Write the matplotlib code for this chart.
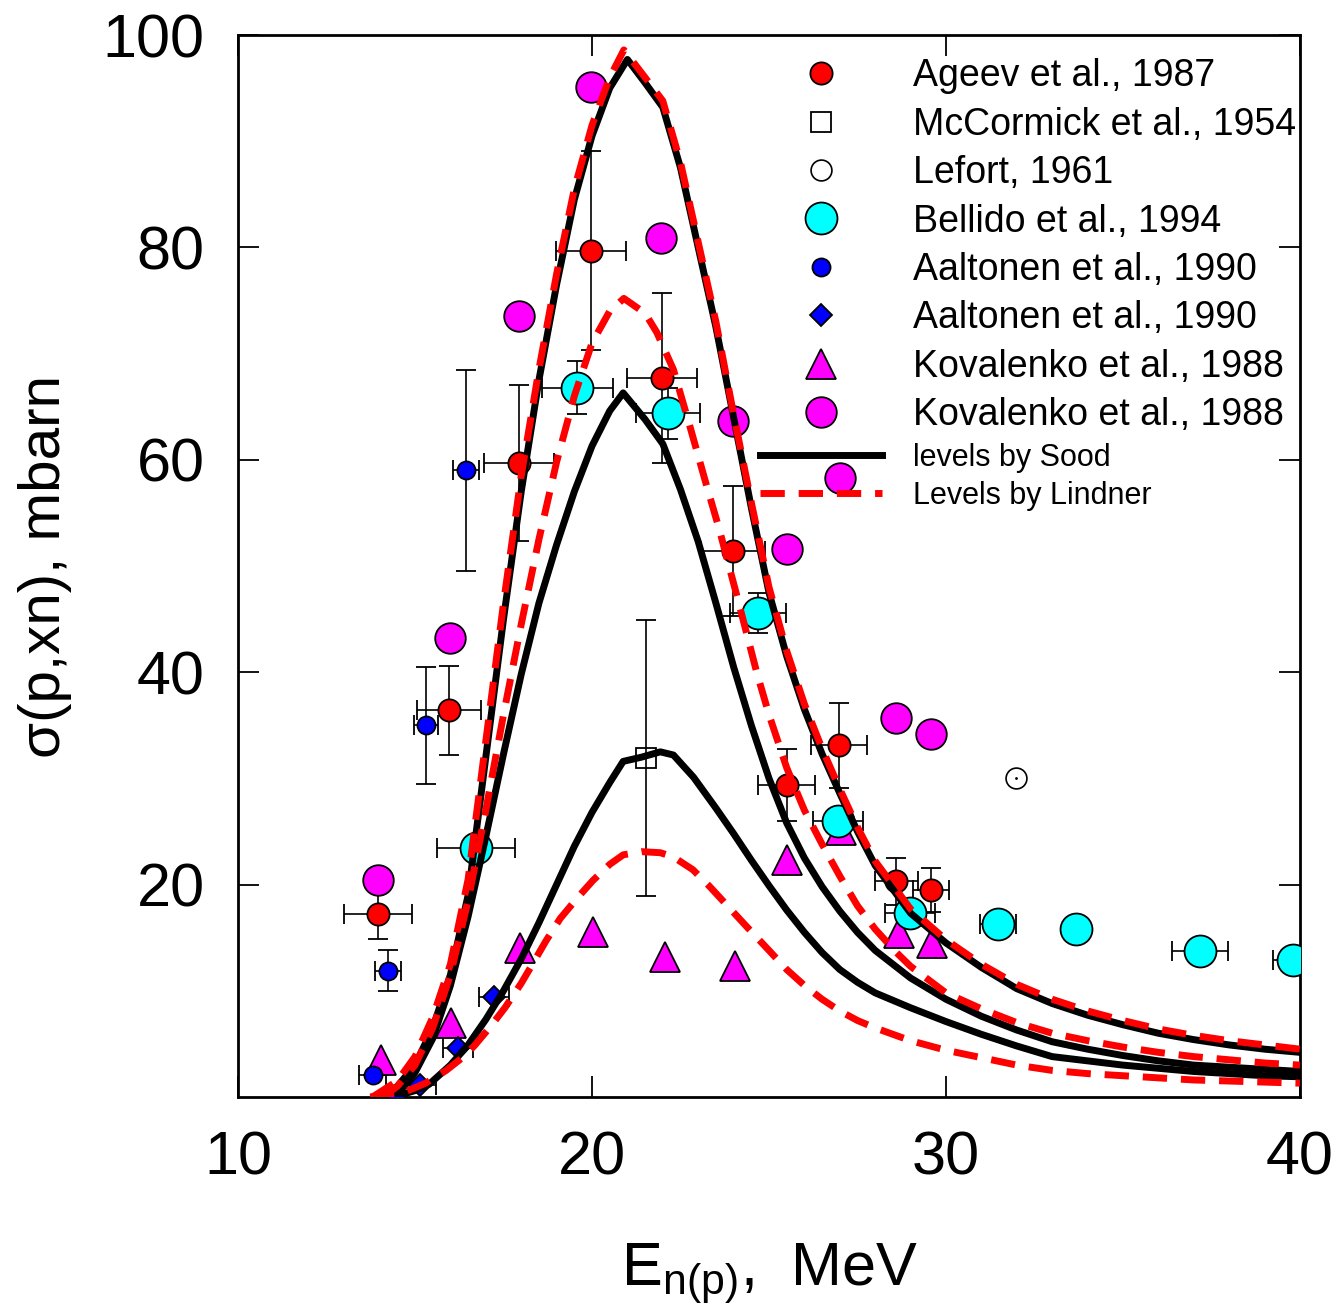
import numpy as np
import matplotlib
matplotlib.use("Agg")
import matplotlib.pyplot as plt
from matplotlib.lines import Line2D

plt.rcParams['font.family'] = ['Liberation Sans', 'DejaVu Sans']
plt.rcParams['mathtext.fontset'] = 'custom'
plt.rcParams['mathtext.rm'] = 'Liberation Sans'
plt.rcParams['mathtext.it'] = 'Liberation Sans'

# experimental data (E in MeV, sigma in mbarn)
ageev_e = [13.95, 15.96, 17.94, 19.97, 21.98, 23.98, 25.5, 26.98, 28.6, 29.58]
ageev_s = [17.2, 36.4, 59.7, 79.7, 67.7, 51.4, 29.4, 33.1, 20.3, 19.5]
ageev_de = [0.96, 0.9, 1.0, 1.0, 1.0, 0.9, 0.8, 0.8, 0.6, 0.5]
ageev_ds = [2.3, 4.2, 7.3, 9.4, 8.0, 6.1, 3.4, 4.0, 2.2, 2.1]

mccormick_e = [21.53]
mccormick_s = [31.9]
mccormick_ds = [13.0]

lefort_e = [31.98]
lefort_s = [30.0]

bellido_e = [16.72, 19.58, 22.15, 24.69, 26.95, 28.98, 31.47, 33.67, 37.18, 39.8]
bellido_s = [23.4, 66.8, 64.4, 45.6, 26.0, 17.3, 16.3, 15.8, 13.7, 12.9]
bellido_de = [1.1, 1.0, 0.9, 0.8, 0.7, 0.7, 0.5, 0.3, 0.8, 0.55]
bellido_ds = [0.0, 2.5, 2.4, 1.9, 0.0, 0.0, 0.0, 0.0, 0.0, 0.0]

aalt_c_e = [13.8, 14.23, 15.31, 16.44]
aalt_c_s = [2.1, 11.9, 35.0, 59.0]
aalt_c_de = [0.37, 0.37, 0.33, 0.37]
aalt_c_ds = [0.0, 1.9, 5.5, 9.5]

aalt_d_e = [14.49, 15.14, 16.21, 17.23]
aalt_d_s = [0.2, 1.1, 4.6, 9.4]
aalt_d_de = [0.0, 0.45, 0.43, 0.43]

kov_t_e = [14.04, 16.02, 17.97, 20.03, 22.06, 24.04, 25.5, 27.03, 28.67, 29.6]
kov_t_s = [3.5, 7.0, 14.0, 15.5, 13.2, 12.3, 22.3, 25.1, 15.4, 14.5]

kov_c_e = [13.95, 15.99, 17.94, 19.97, 21.95, 23.98, 25.51, 27.0, 28.59, 29.58]
kov_c_s = [20.4, 43.2, 73.5, 95.1, 80.9, 63.7, 51.6, 58.3, 35.7, 34.2]

# calculated curves
sood1_e = [14.0, 14.5, 15.0, 15.5, 16.0, 16.5, 17.0, 17.5, 18.0, 18.5, 19.0, 19.5, 20.0,
           20.5, 21.0, 21.5, 22.0, 22.5, 23.0, 23.5, 24.0, 24.5, 25.0, 25.5, 26.0, 26.5,
           27.0, 27.5, 28.0, 29.0, 30.0, 31.0, 32.0, 33.0, 34.0, 35.0, 36.0, 37.0, 38.0,
           39.0, 40.0]
sood1_s = [0.0, 1.0, 3.0, 6.5, 11.5, 19.0, 32.0, 45.0, 57.0, 67.5, 76.5, 84.5, 90.5,
           95.0, 97.7, 95.5, 93.2, 87.5, 80.0, 72.5, 64.0, 55.5, 47.5, 41.5, 36.5, 32.3,
           28.6, 25.0, 21.8, 17.3, 14.5, 12.2, 10.2, 8.8, 7.7, 6.8, 6.0, 5.4, 4.9,
           4.5, 4.2]

lind1_e = [13.8, 14.5, 15.0, 15.5, 16.0, 16.5, 17.0, 17.5, 18.0, 18.5, 19.0, 19.5, 20.0,
           20.5, 20.9, 21.5, 22.0, 22.5, 23.0, 23.5, 24.0, 24.5, 25.0, 25.5, 26.0, 26.5,
           27.0, 27.5, 28.0, 29.0, 30.0, 31.0, 32.0, 33.0, 34.0, 35.0, 36.0, 37.0, 38.0,
           39.0, 40.0]
lind1_s = [0.0, 1.5, 3.8, 7.5, 12.5, 20.5, 33.5, 46.5, 58.5, 68.5, 77.5, 85.5, 91.5,
           96.0, 98.6, 96.0, 93.8, 88.0, 80.5, 73.0, 64.3, 56.0, 48.0, 42.0, 37.0, 32.8,
           29.0, 25.4, 22.2, 17.7, 14.8, 12.5, 10.6, 9.2, 8.1, 7.2, 6.4, 5.8, 5.3,
           4.9, 4.5]

sood2_e = [14.3, 14.7, 15.0, 15.5, 16.0, 16.5, 17.0, 17.5, 18.0, 18.5, 19.0, 19.5, 20.0,
           20.5, 20.88, 21.5, 22.0, 22.5, 23.0, 23.5, 24.0, 24.5, 25.0, 25.5, 26.0, 26.5,
           27.0, 27.5, 28.0, 29.0, 30.0, 31.0, 32.0, 33.0, 34.0, 35.0, 36.0, 37.0, 38.0,
           39.0, 40.0]
sood2_s = [0.0, 1.0, 2.3, 5.5, 10.5, 17.0, 24.5, 32.3, 39.8, 46.5, 52.0, 57.0, 61.3,
           64.6, 66.3, 63.8, 61.5, 57.2, 52.3, 46.5, 40.5, 35.0, 30.0, 25.8, 22.5, 19.8,
           17.5, 15.5, 13.8, 11.2, 9.2, 7.6, 6.3, 5.2, 4.5, 3.9, 3.4, 3.0, 2.8,
           2.6, 2.4]

lind2_e = [14.1, 14.5, 15.0, 15.5, 16.0, 16.5, 17.0, 17.5, 18.0, 18.5, 19.0, 19.5, 20.0,
           20.5, 20.9, 21.5, 21.83, 22.3, 22.77, 23.2, 23.6, 24.1, 24.66, 25.0, 25.5, 26.0,
           26.5, 27.0, 27.5, 28.0, 28.6, 29.0, 30.0, 31.0, 32.0, 33.0, 34.0, 35.0, 36.0,
           37.0, 38.0, 39.0, 40.0]
lind2_s = [0.0, 1.0, 3.0, 6.5, 11.5, 18.5, 27.0, 36.0, 44.5, 52.5, 59.8, 66.0, 71.0,
           74.0, 75.2, 73.8, 72.0, 68.5, 63.1, 58.0, 53.4, 47.1, 39.9, 36.0, 31.0, 27.0,
           23.8, 20.8, 18.0, 15.8, 13.6, 12.3, 9.8, 8.3, 7.0, 6.0, 5.3, 4.7, 4.2,
           3.8, 3.5, 3.2, 3.0]

sood3_e = [14.4, 15.0, 15.4, 16.0, 16.5, 17.0, 17.5, 18.0, 18.5, 19.0, 19.5, 20.0, 20.5,
           20.88, 21.4, 21.93, 22.3, 22.87, 23.5, 24.0, 24.5, 25.0, 25.5, 26.0, 26.5, 27.0,
           27.5, 28.0, 29.0, 30.0, 31.0, 32.0, 33.0, 34.0, 35.0, 36.0, 37.0, 38.0, 39.0,
           40.0]
sood3_s = [0.0, 0.6, 1.2, 3.0, 4.9, 7.3, 10.0, 13.0, 16.4, 20.0, 23.6, 26.8, 29.6,
           31.6, 32.0, 32.5, 32.2, 30.1, 27.2, 24.8, 22.3, 19.9, 17.6, 15.5, 13.6, 12.0,
           10.8, 9.8, 8.4, 7.1, 5.9, 4.8, 3.8, 3.4, 3.0, 2.7, 2.4, 2.2, 2.0,
           1.9]

lind3_e = [13.73, 14.6, 15.3, 15.88, 16.3, 16.67, 17.1, 17.54, 18.0, 18.3, 18.7, 19.1,
           19.6, 20.03, 20.5, 20.88, 21.4, 21.93, 22.3, 22.85, 23.3, 23.8, 24.38, 25.0,
           25.5, 26.0, 26.5, 27.0, 27.5, 28.0, 29.0, 30.0, 31.0, 32.0, 33.0, 34.0, 35.0,
           36.0, 37.0, 38.0, 39.0, 40.0]
lind3_s = [0.0, 0.3, 1.3, 2.5, 3.6, 4.8, 6.5, 8.4, 10.7, 12.4, 14.7, 16.8,
           18.8, 20.4, 21.9, 22.8, 23.1, 23.0, 22.6, 21.4, 19.9, 18.1, 16.0, 13.8,
           12.0, 10.5, 9.2, 8.1, 7.2, 6.5, 5.3, 4.4, 3.7, 3.0, 2.5, 2.2, 2.0,
           1.8, 1.6, 1.5, 1.4, 1.3]

data_labels = ['Ageev et al., 1987', 'McCormick et al., 1954', 'Lefort, 1961',
               'Bellido et al., 1994', 'Aaltonen et al., 1990', 'Aaltonen et al., 1990',
               'Kovalenko et al., 1988', 'Kovalenko et al., 1988']
model_labels = ['levels by Sood', 'Levels by Lindner']

fig = plt.figure(figsize=(13.41, 13.12), dpi=100)
ax = fig.add_axes([0.1775, 0.1639, 0.7919, 0.8094])

err_kw = dict(ecolor='black', elinewidth=1.2, capsize=7, capthick=1.2,
              linestyle='none', markeredgecolor='black', markeredgewidth=1.3, zorder=3)

# marker styles, shared by the data and the legend
st_ageev = dict(marker='o', ms=16, mfc='red', mec='black', mew=1.3)
st_mcc = dict(marker='s', ms=15, mfc='none', mec='black', mew=1.3)
st_lefort = dict(marker='o', ms=15, mfc='white', mec='black', mew=1.2)
st_bell = dict(marker='o', ms=23, mfc='cyan', mec='black', mew=1.3)
st_aalt_c = dict(marker='o', ms=13, mfc='blue', mec='black', mew=1.3)
st_aalt_d = dict(marker='D', ms=11.5, mfc='blue', mec='black', mew=1.3)
st_kov_t = dict(marker='^', ms=21, mfc='magenta', mec='black', mew=1.3)
st_kov_c = dict(marker='o', ms=22, mfc='magenta', mec='black', mew=1.3)

ax.errorbar(ageev_e, ageev_s, xerr=ageev_de, yerr=ageev_ds, fmt='o', ms=16,
            mfc='red', **err_kw)
ax.errorbar(mccormick_e, mccormick_s, yerr=mccormick_ds, fmt='s', ms=15,
            mfc='none', **err_kw)
ax.plot(lefort_e, lefort_s, linestyle='none', zorder=3, **st_lefort)
ax.plot(lefort_e, lefort_s, 'k.', ms=2, zorder=3)
ax.errorbar(bellido_e, bellido_s, xerr=bellido_de, yerr=bellido_ds, fmt='o', ms=23,
            mfc='cyan', **err_kw)
ax.errorbar(aalt_c_e, aalt_c_s, xerr=aalt_c_de, yerr=aalt_c_ds, fmt='o', ms=13,
            mfc='blue', **err_kw)
ax.errorbar(aalt_d_e, aalt_d_s, xerr=aalt_d_de, fmt='D', ms=11.5,
            mfc='blue', **err_kw)
ax.plot(kov_t_e, kov_t_s, linestyle='none', zorder=3, **st_kov_t)
ax.plot(kov_c_e, kov_c_s, linestyle='none', zorder=3, **st_kov_c)

# model curves: black = Sood levels, red dashed = Lindner levels
lw = 5
dash = (3.5, 2.0)
for e, s in [(sood3_e, sood3_s), (sood2_e, sood2_s), (sood1_e, sood1_s)]:
    ax.plot(e, s, color='black', lw=lw, solid_joinstyle='round', zorder=4)
for e, s in [(lind3_e, lind3_s), (lind2_e, lind2_s), (lind1_e, lind1_s)]:
    ax.plot(e, s, color='red', lw=lw, dashes=dash, zorder=5)

ax.set_xlim(10, 40)
ax.set_ylim(0, 100)
ax.set_xticks([10, 20, 30, 40])
ax.set_yticks([20, 40, 60, 80, 100])
ax.tick_params(direction='in', length=15, width=1.3, top=True, right=True,
               labelsize=44, pad=24)
for sp in ax.spines.values():
    sp.set_linewidth(2)

fig.text(45 / 1341, 1 - 567 / 1312, 'σ(p,xn), mbarn', rotation=90,
         ha='center', va='center', fontsize=42)
fig.text(0.574, 1 - 1285 / 1312, r'$\mathrm{E_{n(p)}}$,  MeV', ha='center',
         va='baseline', fontsize=44)

# legend for the measurements
marker_handles = [Line2D([], [], linestyle='none', **st) for st in
                  (st_ageev, st_mcc, st_lefort, st_bell, st_aalt_c, st_aalt_d,
                   st_kov_t, st_kov_c)]
leg1 = ax.legend(marker_handles, data_labels, loc='upper left',
                 bbox_to_anchor=(0.4915, 0.978), frameon=False, fontsize=27,
                 numpoints=1, handlelength=3.25, handletextpad=0.83,
                 labelspacing=0.33, borderpad=0, borderaxespad=0)
ax.add_artist(leg1)

# legend for the calculations, smaller text
line_handles = [Line2D([], [], color='black', lw=lw),
                Line2D([], [], color='red', lw=lw, dashes=dash)]
ax.legend(line_handles, model_labels, loc='upper left',
          bbox_to_anchor=(0.4915, 0.6162), frameon=False, fontsize=22,
          handlelength=4.0, handletextpad=1.0, labelspacing=0.28,
          borderpad=0, borderaxespad=0)

fig.savefig('out.png', dpi=100)
